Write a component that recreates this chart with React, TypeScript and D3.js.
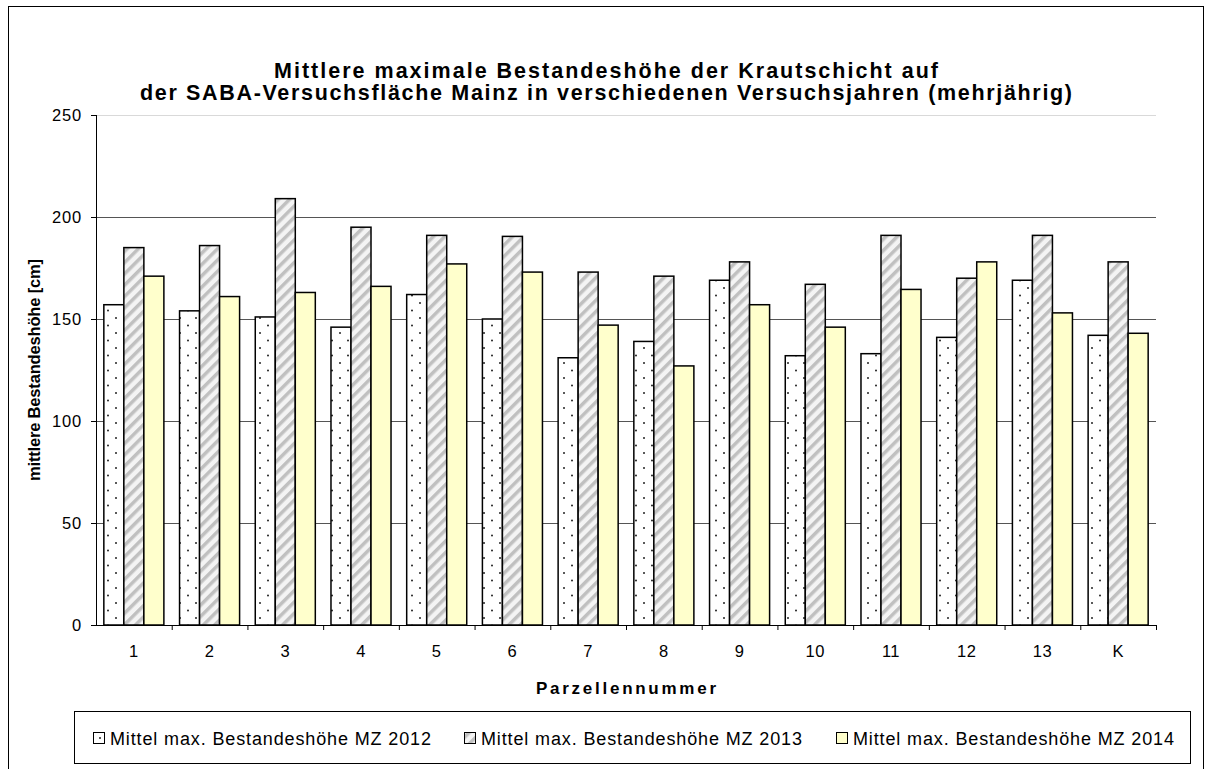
import React from "react";
import * as d3 from "d3";

const categories = ["1", "2", "3", "4", "5", "6", "7", "8", "9", "10", "11", "12", "13", "K"];
const series2012 = [157, 154, 151, 146, 162, 150, 131, 139, 169, 132, 133, 141, 169, 142];
const series2013 = [185, 186, 209, 195, 191, 190.5, 173, 171, 178, 167, 191, 170, 191, 178];
const series2014 = [171, 161, 163, 166, 177, 173, 147, 127, 157, 146, 164.5, 178, 153, 143];
const seriesNames = [
  "Mittel max. Bestandeshöhe MZ 2012",
  "Mittel max. Bestandeshöhe MZ 2013",
  "Mittel max. Bestandeshöhe MZ 2014",
];
const yTicks = [0, 50, 100, 150, 200, 250];
const titleLines = [
  "Mittlere maximale Bestandeshöhe der Krautschicht auf",
  "der SABA-Versuchsfläche Mainz in verschiedenen Versuchsjahren (mehrjährig)",
];

const FONT = "Liberation Sans, Arial, sans-serif";

export default function App() {
  const left = 96, right = 1156, top = 115, bottom = 625;
  const x = d3.scaleBand<string>().domain(categories).range([left, right]).paddingInner(0.207).paddingOuter(0.1035);
  const y = d3.scaleLinear().domain([0, 250]).range([bottom, top]);
  const sub = d3.scaleBand<number>().domain([0, 1, 2]).range([0, x.bandwidth()]);
  const allSeries = [series2012, series2013, series2014];
  const fills = ["url(#dots)", "url(#hatch)", "#FFFFCC"];
  const step = x.step();

  const legendItems = [
    { mx: 93, tx: 110 },
    { mx: 464, tx: 481 },
    { mx: 836, tx: 853 },
  ];
  const titleLens = [664, 932];

  return (
    <svg width={1212} height={769} style={{ position: "absolute", left: 0, top: 0, background: "#fff" }} fontFamily={FONT}>
      <defs>
        <pattern id="dots" patternUnits="userSpaceOnUse" width={16} height={15}>
          <rect width={16} height={15} fill="#fff" />
          <circle cx={4} cy={3} r={1} fill="#222" />
          <circle cx={12} cy={10.5} r={1} fill="#222" />
        </pattern>
        <pattern id="hatch" patternUnits="userSpaceOnUse" width={8} height={8} patternTransform="rotate(45)">
          <rect width={8} height={8} fill="#f4f4f4" />
          <rect x={0} y={0} width={3.5} height={8} fill="#c0c0c0" />
        </pattern>
      </defs>
      <rect x={8.5} y={6.5} width={1195} height={800} fill="#fff" stroke="#000" strokeWidth={1} />
      {titleLines.map((t, i) => (
        <text key={i} x={606 - titleLens[i] / 2} y={78 + i * 22} fontSize={21.5} fontWeight="bold"
          textLength={titleLens[i]} lengthAdjust="spacing">{t}</text>
      ))}
      {yTicks.map((t) => (
        <g key={t}>
          {t > 0 && (
            <line x1={left} x2={right} y1={Math.round(y(t)) + 0.5} y2={Math.round(y(t)) + 0.5}
              stroke={t === 250 ? "#d9d9d9" : "#555"} strokeWidth={1} />
          )}
          <line x1={left - 5} x2={left} y1={Math.round(y(t)) + 0.5} y2={Math.round(y(t)) + 0.5} stroke="#000" />
          <text x={82} y={y(t) + 6} textAnchor="end" fontSize={16.5} letterSpacing={0.8}>{t}</text>
        </g>
      ))}
      {allSeries.map((s, si) =>
        s.map((v, ci) => (
          <rect key={`${si}-${ci}`} x={(x(categories[ci]) as number) + (sub(si) as number)} y={y(v)}
            width={sub.bandwidth()} height={y(0) - y(v)} fill={fills[si]} stroke="#000" strokeWidth={1.5} />
        ))
      )}
      <line x1={left + 0.5} x2={left + 0.5} y1={top} y2={bottom} stroke="#000" />
      <line x1={left} x2={right} y1={bottom + 0.5} y2={bottom + 0.5} stroke="#000" />
      {categories.map((c, i) => (
        <g key={c}>
          <line x1={left + step * (i + 1) + 0.5} x2={left + step * (i + 1) + 0.5} y1={bottom} y2={bottom + 5} stroke="#000" />
          <text x={(x(c) as number) + x.bandwidth() / 2} y={657} textAnchor="middle" fontSize={16.5} letterSpacing={0.5}>{c}</text>
        </g>
      ))}
      <text x={626 - 90} y={694} fontSize={17} fontWeight="bold" textLength={180} lengthAdjust="spacing">Parzellennummer</text>
      <text transform={`translate(40,${370 + 111}) rotate(-90)`} fontSize={16.5} fontWeight="bold"
        textLength={222} lengthAdjust="spacing">mittlere Bestandeshöhe [cm]</text>
      <rect x={74.5} y={711.5} width={1116} height={52} fill="#fff" stroke="#000" strokeWidth={1} />
      {legendItems.map((l, i) => (
        <g key={i}>
          <rect x={l.mx + 0.5} y={732.5} width={11} height={11} fill={fills[i]} stroke="#000" strokeWidth={1} />
          <text x={l.tx} y={745} fontSize={18} textLength={321} lengthAdjust="spacing">{seriesNames[i]}</text>
        </g>
      ))}
    </svg>
  );
}
